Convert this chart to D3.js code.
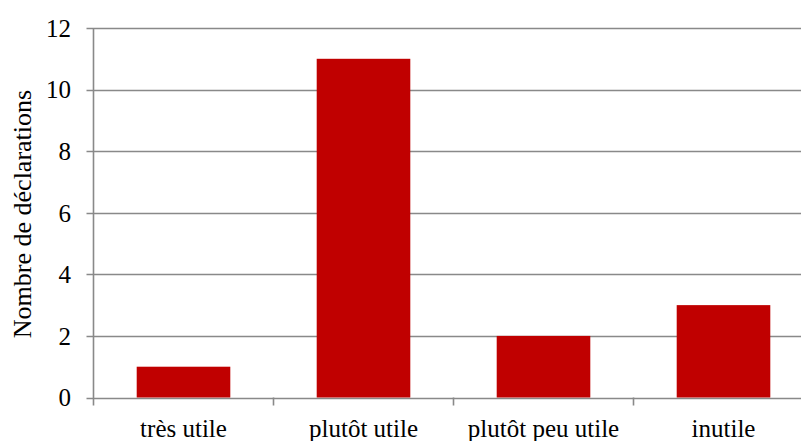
<!DOCTYPE html>
<html>
<head>
<meta charset="utf-8">
<script src="https://cdn.jsdelivr.net/npm/d3@7"></script>
<style>
  html, body { margin: 0; padding: 0; background: #fff; }
  svg { display: block; }
</style>
</head>
<body>
<svg id="chart" width="801" height="441"></svg>
<script>
// Répartition des déclarations selon l'utilité perçue
const categories = ["très utile", "plutôt utile", "plutôt peu utile", "inutile"];
const counts = [1, 11, 2, 3];
const yTicks = [0, 2, 4, 6, 8, 10, 12];
const yTitle = "Nombre de déclarations";

const serif = "'Liberation Serif', 'Times New Roman', Times, serif";
const svg = d3.select("#chart");
const margin = { left: 93.5, top: 28, bottom: 397.5 };
const bandWidth = 180;
const plotRight = margin.left + bandWidth * categories.length;

const x = d3.scaleBand()
  .domain(categories)
  .range([margin.left, plotRight])
  .paddingInner(0.48)
  .paddingOuter(0.24);

const y = d3.scaleLinear()
  .domain([0, 12])
  .range([margin.bottom, margin.top]);

const axisColor = "#898989";

// horizontal gridlines
svg.append("g")
  .selectAll("line")
  .data(yTicks)
  .join("line")
  .attr("x1", margin.left - 7)
  .attr("x2", 801)
  .attr("y1", d => Math.round(y(d)) + 0.5)
  .attr("y2", d => Math.round(y(d)) + 0.5)
  .attr("stroke", axisColor)
  .attr("stroke-width", 1.6);

// bars
svg.append("g")
  .selectAll("rect")
  .data(categories)
  .join("rect")
  .attr("x", d => x(d))
  .attr("width", x.bandwidth())
  .attr("y", (d, i) => y(counts[i]))
  .attr("height", (d, i) => y(0) - y(counts[i]))
  .attr("fill", "#C00000");

// y axis line
svg.append("line")
  .attr("x1", margin.left).attr("x2", margin.left)
  .attr("y1", margin.top).attr("y2", margin.bottom + 8)
  .attr("stroke", axisColor)
  .attr("stroke-width", 1.6);

// x axis tick marks at category boundaries
const boundaries = d3.range(1, categories.length + 1).map(i => margin.left + i * bandWidth);
svg.append("g")
  .selectAll("line")
  .data(boundaries)
  .join("line")
  .attr("x1", d => d).attr("x2", d => d)
  .attr("y1", margin.bottom).attr("y2", margin.bottom + 8)
  .attr("stroke", axisColor)
  .attr("stroke-width", 1.6);

// y tick labels
svg.append("g")
  .selectAll("text")
  .data(yTicks)
  .join("text")
  .attr("x", 71)
  .attr("y", d => y(d))
  .attr("dy", "0.35em")
  .attr("text-anchor", "end")
  .attr("font-family", serif)
  .attr("font-size", 25)
  .attr("fill", "#000")
  .text(d => d);

// category labels
svg.append("g")
  .selectAll("text")
  .data(categories)
  .join("text")
  .attr("x", d => x(d) + x.bandwidth() / 2)
  .attr("y", 437)
  .attr("text-anchor", "middle")
  .attr("font-family", serif)
  .attr("font-size", 25)
  .attr("fill", "#000")
  .text(d => d);

// y axis title
svg.append("text")
  .attr("transform", "translate(31, 214) rotate(-90)")
  .attr("text-anchor", "middle")
  .attr("font-family", serif)
  .attr("font-size", 26)
  .attr("fill", "#000")
  .text(yTitle);
</script>
</body>
</html>
